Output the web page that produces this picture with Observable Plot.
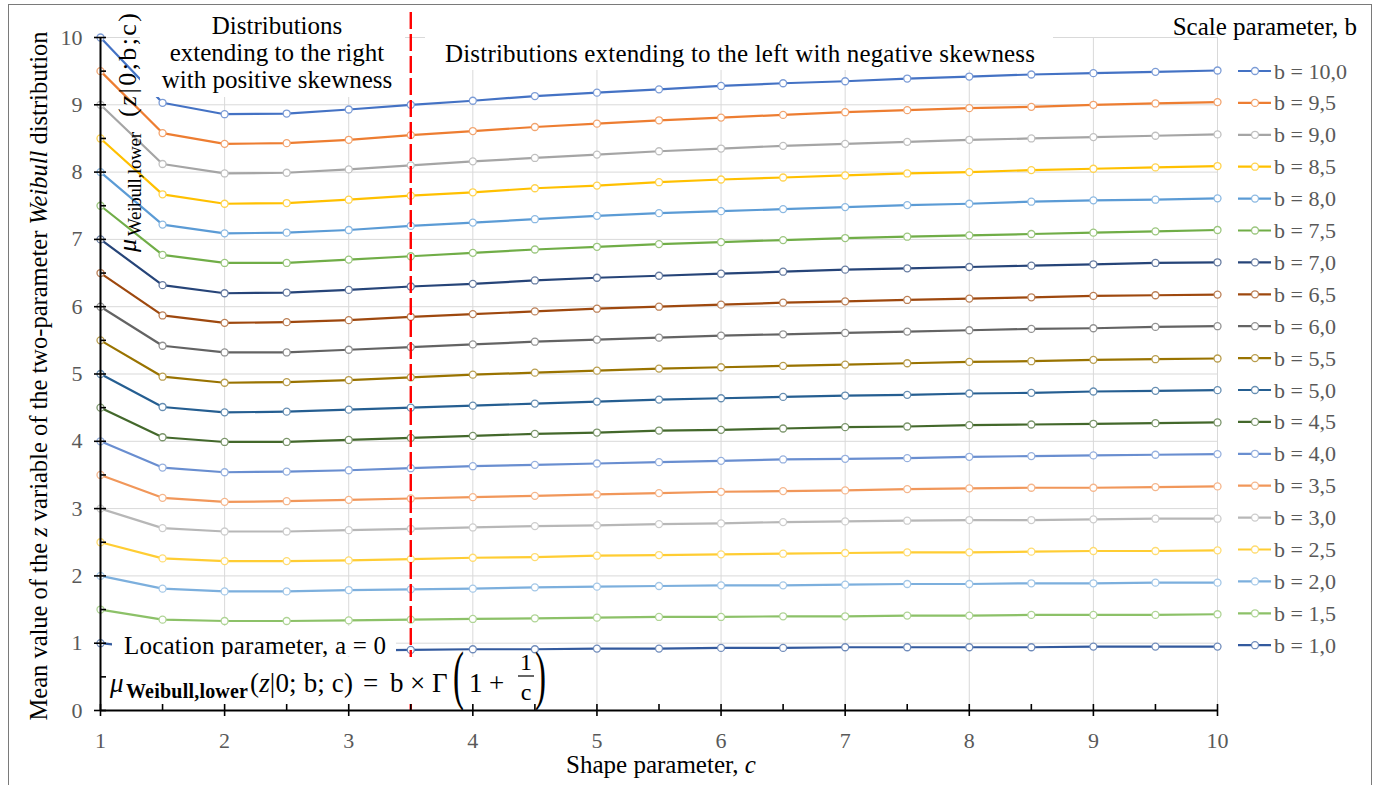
<!DOCTYPE html>
<html><head><meta charset="utf-8">
<script src="https://cdn.jsdelivr.net/npm/d3@7"></script>
<script src="https://cdn.jsdelivr.net/npm/@observablehq/plot@0.6"></script>
<style>
html,body{margin:0;padding:0;background:#fff;overflow:hidden;}
#wrap{position:relative;width:1376px;height:785px;overflow:hidden;font-family:"Liberation Serif",serif;background:#fff;}
#wrap > svg{position:absolute;left:0;top:0;}
#wrap svg text, #wrap svg tspan{font-family:"Liberation Serif",serif !important;}
#frame{position:absolute;left:8px;top:4px;width:1364px;height:800px;border:1.5px solid #7a7a7a;box-sizing:border-box;pointer-events:none;}
</style></head><body><div id="wrap"></div>
<script>
const cValues = [1,1.5,2,2.5,3,3.5,4,4.5,5,5.5,6,6.5,7,7.5,8,8.5,9,9.5,10];
const bLabels = ["10,0","9,5","9,0","8,5","8,0","7,5","7,0","6,5","6,0","5,5","5,0","4,5","4,0","3,5","3,0","2,5","2,0","1,5","1,0"];
const seriesColors = ["#4472C4","#ED7D31","#A5A5A5","#FFC000","#5B9BD5","#70AD47","#264478","#9E480E","#636363","#997300","#255E91","#43682B","#698ED0","#F1975A","#B7B7B7","#FFCD33","#7CAFDD","#8CC168","#335A9E"];

const mean_b100 = [10.00, 9.03, 8.86, 8.87, 8.93, 9.00, 9.06, 9.13, 9.18, 9.23, 9.28, 9.32, 9.35, 9.39, 9.42, 9.45, 9.47, 9.49, 9.51];
const mean_b95  = [9.50, 8.58, 8.42, 8.43, 8.48, 8.55, 8.61, 8.67, 8.72, 8.77, 8.81, 8.85, 8.89, 8.92, 8.95, 8.97, 9.00, 9.02, 9.04];
const mean_b90  = [9.00, 8.12, 7.98, 7.99, 8.04, 8.10, 8.16, 8.21, 8.26, 8.31, 8.35, 8.39, 8.42, 8.45, 8.48, 8.50, 8.52, 8.54, 8.56];
const mean_b85  = [8.50, 7.67, 7.53, 7.54, 7.59, 7.65, 7.70, 7.76, 7.80, 7.85, 7.89, 7.92, 7.95, 7.98, 8.00, 8.03, 8.05, 8.07, 8.09];
const mean_b80  = [8.00, 7.22, 7.09, 7.10, 7.14, 7.20, 7.25, 7.30, 7.35, 7.39, 7.42, 7.45, 7.48, 7.51, 7.53, 7.56, 7.58, 7.59, 7.61];
const mean_b75  = [7.50, 6.77, 6.65, 6.65, 6.70, 6.75, 6.80, 6.85, 6.89, 6.93, 6.96, 6.99, 7.02, 7.04, 7.06, 7.08, 7.10, 7.12, 7.14];
const mean_b70  = [7.00, 6.32, 6.20, 6.21, 6.25, 6.30, 6.34, 6.39, 6.43, 6.46, 6.49, 6.52, 6.55, 6.57, 6.59, 6.61, 6.63, 6.65, 6.66];
const mean_b65  = [6.50, 5.87, 5.76, 5.77, 5.80, 5.85, 5.89, 5.93, 5.97, 6.00, 6.03, 6.06, 6.08, 6.10, 6.12, 6.14, 6.16, 6.17, 6.18];
const mean_b60  = [6.00, 5.42, 5.32, 5.32, 5.36, 5.40, 5.44, 5.48, 5.51, 5.54, 5.57, 5.59, 5.61, 5.63, 5.65, 5.67, 5.68, 5.70, 5.71];
const mean_b55  = [5.50, 4.96, 4.87, 4.88, 4.91, 4.95, 4.99, 5.02, 5.05, 5.08, 5.10, 5.12, 5.14, 5.16, 5.18, 5.19, 5.21, 5.22, 5.23];
const mean_b50  = [5.00, 4.51, 4.43, 4.44, 4.47, 4.50, 4.53, 4.56, 4.59, 4.62, 4.64, 4.66, 4.68, 4.69, 4.71, 4.72, 4.74, 4.75, 4.76];
const mean_b45  = [4.50, 4.06, 3.99, 3.99, 4.02, 4.05, 4.08, 4.11, 4.13, 4.16, 4.17, 4.19, 4.21, 4.22, 4.24, 4.25, 4.26, 4.27, 4.28];
const mean_b40  = [4.00, 3.61, 3.54, 3.55, 3.57, 3.60, 3.63, 3.65, 3.67, 3.69, 3.71, 3.73, 3.74, 3.75, 3.77, 3.78, 3.79, 3.80, 3.81];
const mean_b35  = [3.50, 3.16, 3.10, 3.11, 3.13, 3.15, 3.17, 3.19, 3.21, 3.23, 3.25, 3.26, 3.27, 3.29, 3.30, 3.31, 3.31, 3.32, 3.33];
const mean_b30  = [3.00, 2.71, 2.66, 2.66, 2.68, 2.70, 2.72, 2.74, 2.75, 2.77, 2.78, 2.80, 2.81, 2.82, 2.83, 2.83, 2.84, 2.85, 2.85];
const mean_b25  = [2.50, 2.26, 2.22, 2.22, 2.23, 2.25, 2.27, 2.28, 2.30, 2.31, 2.32, 2.33, 2.34, 2.35, 2.35, 2.36, 2.37, 2.37, 2.38];
const mean_b20  = [2.00, 1.81, 1.77, 1.77, 1.79, 1.80, 1.81, 1.83, 1.84, 1.85, 1.86, 1.86, 1.87, 1.88, 1.88, 1.89, 1.89, 1.90, 1.90];
const mean_b15  = [1.50, 1.35, 1.33, 1.33, 1.34, 1.35, 1.36, 1.37, 1.38, 1.39, 1.39, 1.40, 1.40, 1.41, 1.41, 1.42, 1.42, 1.42, 1.43];
const mean_b10  = [1.00, 0.90, 0.89, 0.89, 0.89, 0.90, 0.91, 0.91, 0.92, 0.92, 0.93, 0.93, 0.94, 0.94, 0.94, 0.94, 0.95, 0.95, 0.95];
const seriesValues = [mean_b100, mean_b95, mean_b90, mean_b85, mean_b80, mean_b75, mean_b70, mean_b65, mean_b60, mean_b55, mean_b50, mean_b45, mean_b40, mean_b35, mean_b30, mean_b25, mean_b20, mean_b15, mean_b10];

const xMajorTicks = [1,2,3,4,5,6,7,8,9,10];
const xMinorTicks = [1.5,2.5,3.5,4.5,5.5,6.5,7.5,8.5,9.5];
const yMajorTicks = [0,1,2,3,4,5,6,7,8,9,10];
const yMinorTicks = [0.5,1.5,2.5,3.5,4.5,5.5,6.5,7.5,8.5,9.5];
const boundaryShape = [3.5];

const lighten = c => d3.interpolateRgb(c, "#ffffff")(0.3);
const rows = [];
bLabels.forEach((b, i) => cValues.forEach((c, j) => rows.push({b, c, mean: seriesValues[i][j], col: seriesColors[i]})));

const serif = "Liberation Serif";
const chart = Plot.plot({
  width: 1376, height: 785,
  marginLeft: 100, marginRight: 159, marginTop: 37, marginBottom: 75,
  x: {domain: [1, 10], label: null},
  y: {domain: [0, 10], label: null},
  color: {type: "identity"},
  style: {fontFamily: serif, background: "transparent", overflow: "visible"},
  marks: [
    Plot.gridX(xMajorTicks.slice(1), {stroke: "#d9d9d9", strokeOpacity: 1, strokeWidth: 1}),
    Plot.gridY(yMajorTicks.slice(1), {stroke: "#d9d9d9", strokeOpacity: 1, strokeWidth: 1}),
    Plot.line(rows, {x: "c", y: "mean", z: "b", stroke: "col", strokeWidth: 2.2}),
    Plot.dot(rows, {x: "c", y: "mean", r: 3.5, fill: "white", stroke: d => lighten(d.col), strokeWidth: 1.3}),
    Plot.ruleX(boundaryShape, {stroke: "#FF0000", strokeWidth: 2.4, strokeDasharray: "17,5", insetTop: -25}),
    Plot.ruleX([1], {stroke: "#000", strokeWidth: 2}),
    Plot.ruleY([0], {stroke: "#000", strokeWidth: 2}),
    Plot.ruleX(xMajorTicks, {y1: 0, y2: 0, insetTop: -6, insetBottom: -6, stroke: "#000", strokeWidth: 1.6}),
    Plot.ruleX(xMinorTicks, {y1: 0, y2: 0, insetTop: -6, insetBottom: 0, stroke: "#000", strokeWidth: 1.6}),
    Plot.ruleY(yMajorTicks, {x1: 1, x2: 1, insetLeft: -6, insetRight: -6, stroke: "#000", strokeWidth: 1.6}),
    Plot.ruleY(yMinorTicks, {x1: 1, x2: 1, insetLeft: 0, insetRight: -6, stroke: "#000", strokeWidth: 1.6}),
    Plot.axisX({ticks: xMajorTicks, tickSize: 0, tickPadding: 22, fontSize: 22, fontFamily: serif, color: "#595959", label: null}),
    Plot.axisY({ticks: yMajorTicks, tickSize: 0, tickPadding: 18, fontSize: 22, fontFamily: serif, color: "#595959", label: null})
  ]
});
const wrap = document.getElementById("wrap");
wrap.appendChild(chart);

// overlay annotations
const ov = d3.select(wrap).append("svg").attr("width", 1376).attr("height", 785)
  .style("position", "absolute").style("left", 0).style("top", 0)
  .attr("font-family", serif);
const txt = (sel) => sel.append("text").attr("font-family", serif);

// Box 1
ov.append("rect").attr("x", 140).attr("y", 8).attr("width", 265).attr("height", 89).attr("fill", "#fff");
[["Distributions", 34], ["extending to the right", 61], ["with positive skewness", 88]].forEach(([t, y]) =>
  txt(ov).attr("x", 277).attr("y", y).attr("text-anchor", "middle").attr("font-size", 25).attr("fill", "#000").text(t));

// Box 2
ov.append("rect").attr("x", 425).attr("y", 30).attr("width", 628).attr("height", 40).attr("fill", "#fff");
txt(ov).attr("x", 445).attr("y", 62).attr("font-size", 25).attr("fill", "#000")
  .attr("textLength", 590).attr("lengthAdjust", "spacing")
  .text("Distributions extending to the left with negative skewness");

// rotated formula label
const rl = ov.append("g").attr("transform", "translate(136,252) rotate(-90)").attr("fill", "#000");
txt(rl).attr("x", 0).attr("y", 0).attr("font-size", 26).attr("font-style", "italic").text("μ");
txt(rl).attr("x", 16).attr("y", 5).attr("font-size", 19).attr("textLength", 104).attr("lengthAdjust", "spacing").text("Weibull,lower");
const rm = txt(rl).attr("x", 135).attr("y", 0).attr("font-size", 26).attr("textLength", 104).attr("lengthAdjust", "spacing");
rm.append("tspan").text("(");
rm.append("tspan").attr("font-style", "italic").text("z");
rm.append("tspan").text("|0;b;c)");

// Location parameter box
ov.append("rect").attr("x", 112).attr("y", 626).attr("width", 284).attr("height", 30).attr("fill", "#fff");
txt(ov).attr("x", 124).attr("y", 654).attr("font-size", 25).attr("fill", "#000")
  .attr("textLength", 262).attr("lengthAdjust", "spacing").text("Location parameter, a = 0");

// Formula box
ov.append("rect").attr("x", 108).attr("y", 657).attr("width", 448).attr("height", 47).attr("fill", "#fff");
const fg = ov.append("g").attr("fill", "#000");
txt(fg).attr("x", 110).attr("y", 692).attr("font-size", 27).attr("font-style", "italic").text("μ");
txt(fg).attr("x", 126).attr("y", 698).attr("font-size", 20).attr("font-weight", "bold").attr("textLength", 122).attr("lengthAdjust", "spacing").text("Weibull,lower");
const fm = txt(fg).attr("x", 250).attr("y", 692).attr("font-size", 27).attr("textLength", 103).attr("lengthAdjust", "spacing");
fm.append("tspan").text("(");
fm.append("tspan").attr("font-style", "italic").text("z");
fm.append("tspan").text("|0; b; c)");
txt(fg).attr("x", 363).attr("y", 692).attr("font-size", 27).text("=");
txt(fg).attr("x", 390).attr("y", 692).attr("font-size", 27).text("b");
txt(fg).attr("x", 410).attr("y", 692).attr("font-size", 27).text("×");
txt(fg).attr("x", 432).attr("y", 692).attr("font-size", 27).text("Γ");
txt(fg).attr("transform", "translate(453,697) scale(0.5,1)").attr("font-size", 66).text("(");
txt(fg).attr("x", 469).attr("y", 692).attr("font-size", 27).text("1");
txt(fg).attr("x", 489).attr("y", 692).attr("font-size", 27).text("+");
txt(fg).attr("x", 526).attr("y", 670).attr("font-size", 24).attr("text-anchor", "middle").text("1");
fg.append("line").attr("x1", 518).attr("x2", 534).attr("y1", 676).attr("y2", 676).attr("stroke", "#000").attr("stroke-width", 1.2);
txt(fg).attr("x", 526).attr("y", 700).attr("font-size", 24).attr("text-anchor", "middle").text("c");
txt(fg).attr("transform", "translate(535,697) scale(0.5,1)").attr("font-size", 66).text(")");

// Axis titles
const yt = txt(ov).attr("transform", "translate(47,376) rotate(-90)").attr("text-anchor", "middle").attr("font-size", 24.5).attr("fill", "#000");
yt.append("tspan").text("Mean value of the ");
yt.append("tspan").attr("font-style", "italic").text("z");
yt.append("tspan").text(" variable of the two-parameter ");
yt.append("tspan").attr("font-style", "italic").text("Weibull");
yt.append("tspan").text(" distribution");

const xt = txt(ov).attr("x", 661).attr("y", 773).attr("text-anchor", "middle").attr("font-size", 25).attr("fill", "#000");
xt.append("tspan").text("Shape parameter, ");
xt.append("tspan").attr("font-style", "italic").text("c");

// Legend
txt(ov).attr("x", 1357).attr("y", 35).attr("text-anchor", "end").attr("font-size", 25).attr("fill", "#000").text("Scale parameter, b");
bLabels.forEach((b, i) => {
  const y = 71 + 31.9 * i;
  const g = ov.append("g");
  g.append("line").attr("x1", 1238).attr("x2", 1271).attr("y1", y).attr("y2", y).attr("stroke", seriesColors[i]).attr("stroke-width", 2.2);
  g.append("circle").attr("cx", 1255).attr("cy", y).attr("r", 3.5).attr("fill", "#fff").attr("stroke", lighten(seriesColors[i])).attr("stroke-width", 1.3);
  txt(g).attr("x", 1274).attr("y", y + 7.5).attr("font-size", 22).attr("fill", "#595959").text("b = " + b);
});

const frame = document.createElement("div");
frame.id = "frame";
wrap.appendChild(frame);
</script>
</body></html>
